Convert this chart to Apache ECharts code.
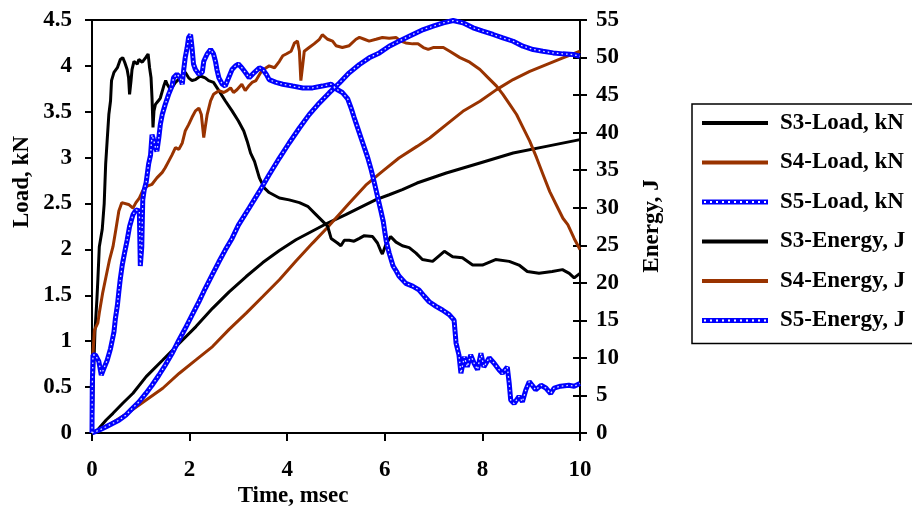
<!DOCTYPE html>
<html>
<head>
<meta charset="utf-8">
<script src="https://cdn.jsdelivr.net/npm/echarts@6/dist/echarts.min.js"></script>
<style>html,body{margin:0;padding:0;background:#fff;}#c{width:912px;height:506px;}</style>
</head>
<body>
<div id="c"></div>
<script>
// ---- data ----
const xTicks = [0, 2, 4, 6, 8, 10];
const loadTicksMax = 4.5, energyTicksMax = 55;
const seriesNames = ['S3-Load, kN','S4-Load, kN','S5-Load, kN','S3-Energy, J','S4-Energy, J','S5-Energy, J'];

const s3LoadT = [0,0.03,0.06,0.1,0.12,0.15,0.21,0.25,0.28,0.31,0.345,0.38,0.40,0.45,0.52,0.58,0.63,0.67,0.72,0.75,0.77,0.80,0.82,0.86,0.93,0.96,1.03,1.10,1.15,1.18,1.21,1.23,1.25,1.27,1.30,1.36,1.40,1.47,1.51,1.54,1.61,1.71,1.81,1.91,1.98,2.05,2.12,2.22,2.32,2.39,2.49,2.60,2.73,2.87,3.0,3.11,3.18,3.25,3.33,3.43,3.53,3.63,3.84,4.04,4.25,4.42,4.59,4.76,4.83,4.90,5.03,5.10,5.17,5.27,5.37,5.48,5.58,5.75,5.85,5.92,5.95,6.02,6.12,6.23,6.36,6.50,6.64,6.77,6.98,7.22,7.39,7.59,7.80,8.0,8.27,8.55,8.75,8.92,9.16,9.43,9.64,9.78,9.88,10];
const s3Load  = [0,0.6,1.1,1.45,1.67,2.03,2.22,2.5,2.93,3.18,3.47,3.62,3.84,3.93,3.98,4.07,4.09,4.04,3.96,3.87,3.69,3.84,3.96,4.05,4.02,4.07,4.04,4.09,4.13,3.98,3.87,3.65,3.33,3.51,3.58,3.62,3.65,3.78,3.84,3.80,3.74,3.82,3.87,3.93,3.87,3.84,3.85,3.89,3.87,3.84,3.82,3.73,3.62,3.51,3.40,3.29,3.18,3.05,2.96,2.78,2.67,2.62,2.56,2.54,2.51,2.47,2.38,2.29,2.25,2.12,2.07,2.04,2.10,2.10,2.09,2.12,2.15,2.14,2.07,1.98,1.95,2.05,2.14,2.08,2.04,2.02,1.96,1.89,1.87,1.98,1.92,1.91,1.83,1.83,1.89,1.87,1.83,1.76,1.74,1.76,1.78,1.74,1.69,1.74];

const s4LoadT = [0,0.005,0.02,0.05,0.12,0.15,0.22,0.29,0.36,0.43,0.49,0.55,0.61,0.75,0.84,0.90,0.97,1.04,1.13,1.23,1.33,1.44,1.50,1.57,1.64,1.71,1.78,1.85,1.91,1.98,2.05,2.12,2.19,2.24,2.29,2.32,2.36,2.43,2.49,2.60,2.70,2.77,2.84,2.90,2.97,3.07,3.14,3.21,3.28,3.36,3.46,3.57,3.63,3.74,3.84,3.91,3.98,4.08,4.15,4.21,4.25,4.28,4.32,4.35,4.45,4.55,4.66,4.72,4.83,4.93,5.0,5.13,5.27,5.41,5.48,5.58,5.68,5.82,5.95,6.09,6.23,6.33,6.43,6.57,6.68,6.79,6.89,6.99,7.20,7.33,7.54,7.74,7.95,8.12,8.29,8.42,8.56,8.70,8.83,8.97,9.11,9.24,9.38,9.51,9.65,9.75,9.88,10];
const s4Load  = [0,0.6,0.87,1.12,1.20,1.31,1.53,1.71,1.89,2.03,2.22,2.42,2.51,2.49,2.45,2.51,2.56,2.64,2.69,2.71,2.78,2.84,2.89,2.96,3.03,3.11,3.09,3.16,3.29,3.36,3.44,3.51,3.54,3.47,3.22,3.33,3.47,3.62,3.69,3.73,3.71,3.73,3.76,3.71,3.74,3.80,3.73,3.78,3.82,3.84,3.93,3.98,4.00,3.98,4.05,4.11,4.13,4.16,4.25,4.27,4.16,3.84,4.02,4.16,4.20,4.24,4.29,4.34,4.29,4.27,4.22,4.20,4.22,4.29,4.31,4.29,4.27,4.29,4.31,4.30,4.31,4.27,4.25,4.24,4.24,4.20,4.18,4.20,4.20,4.16,4.09,4.04,3.96,3.87,3.78,3.69,3.58,3.47,3.33,3.18,3.0,2.82,2.63,2.49,2.34,2.27,2.12,2.0];

const s5LoadT = [0,0.005,0.02,0.07,0.14,0.19,0.24,0.31,0.38,0.45,0.48,0.52,0.55,0.58,0.62,0.67,0.72,0.77,0.84,0.90,0.97,0.99,1.02,1.04,1.07,1.11,1.16,1.20,1.23,1.27,1.30,1.33,1.37,1.40,1.44,1.50,1.57,1.64,1.67,1.74,1.81,1.85,1.88,1.91,1.95,1.98,2.02,2.05,2.08,2.12,2.19,2.26,2.29,2.36,2.43,2.46,2.49,2.53,2.56,2.60,2.67,2.73,2.80,2.87,2.94,3.00,3.07,3.14,3.22,3.33,3.43,3.50,3.57,3.63,3.77,3.91,4.11,4.32,4.52,4.72,4.90,5.03,5.13,5.24,5.31,5.37,5.44,5.51,5.58,5.65,5.72,5.78,5.85,5.92,5.97,6.0,6.03,6.09,6.17,6.24,6.29,6.43,6.57,6.70,6.81,6.91,7.05,7.18,7.32,7.42,7.46,7.52,7.56,7.63,7.69,7.76,7.83,7.90,7.97,8.03,8.14,8.24,8.34,8.41,8.51,8.55,8.58,8.65,8.75,8.82,8.89,8.96,9.02,9.09,9.20,9.30,9.40,9.47,9.60,9.77,9.88,10];
const s5Load  = [0,0.48,0.85,0.85,0.78,0.63,0.70,0.79,0.92,1.10,1.25,1.39,1.54,1.68,1.83,1.97,2.10,2.25,2.38,2.43,2.42,1.82,2.03,2.54,2.65,2.73,2.93,3.03,3.25,3.18,3.11,3.07,3.22,3.36,3.47,3.58,3.69,3.78,3.87,3.91,3.87,3.80,3.96,4.09,4.20,4.31,4.34,4.20,4.02,3.96,3.91,3.93,4.05,4.13,4.18,4.20,4.13,4.05,3.96,3.87,3.80,3.78,3.87,3.96,4.00,4.02,3.98,3.93,3.87,3.93,3.98,3.96,3.91,3.85,3.82,3.80,3.78,3.76,3.76,3.78,3.80,3.74,3.71,3.64,3.54,3.44,3.33,3.22,3.11,3.0,2.87,2.74,2.58,2.42,2.30,2.19,2.09,1.96,1.82,1.76,1.71,1.63,1.60,1.56,1.49,1.43,1.38,1.34,1.29,1.23,0.98,0.85,0.65,0.83,0.72,0.85,0.76,0.69,0.87,0.72,0.82,0.76,0.69,0.65,0.72,0.54,0.36,0.32,0.40,0.34,0.47,0.56,0.52,0.47,0.52,0.49,0.43,0.49,0.51,0.52,0.51,0.54];

const s3EnergyT = [0,0.1,0.29,0.43,0.63,0.84,1.11,1.45,1.79,2.13,2.47,2.81,3.16,3.50,3.84,4.18,4.52,4.83,5.20,5.54,5.82,6.09,6.36,6.66,7.26,7.95,8.63,9.31,10];
const s3Energy  = [0,0.3,1.73,2.62,3.96,5.29,7.51,9.73,11.96,14.17,16.6,18.8,20.84,22.7,24.3,25.73,26.9,27.96,29.07,30.17,31.07,31.73,32.4,33.29,34.62,35.96,37.29,38.17,39.07];

const s4EnergyT = [0,0.4,0.77,1.11,1.45,1.79,2.13,2.47,2.81,3.16,3.50,3.84,4.18,4.52,4.83,5.27,5.61,5.95,6.29,6.66,6.92,7.26,7.60,7.95,8.29,8.63,8.97,9.31,9.65,10];
const s4Energy  = [0,1.3,2.84,4.4,5.96,7.96,9.73,11.51,13.8,15.96,18.17,20.4,22.9,25.29,27.4,30.6,33.0,34.84,36.62,38.17,39.29,41.07,42.84,44.17,45.73,47.07,48.17,49.07,49.96,50.84];

const s5EnergyT = [0,0.14,0.28,0.41,0.55,0.69,0.82,0.96,1.10,1.23,1.37,1.50,1.64,1.78,1.91,2.05,2.19,2.32,2.46,2.60,2.73,2.87,3.0,3.22,3.43,3.63,3.84,4.04,4.25,4.45,4.66,4.86,5.07,5.27,5.48,5.68,5.89,6.09,6.29,6.50,6.79,6.99,7.20,7.40,7.60,7.81,8.01,8.22,8.42,8.63,8.83,9.04,9.24,9.45,9.65,9.86,10];
const s5Energy  = [0,0.36,0.8,1.24,1.69,2.36,3.24,4.13,5.24,6.36,7.69,9.02,10.58,12.36,13.91,15.69,17.47,19.24,21.02,22.8,24.36,25.91,27.69,29.96,32.17,34.4,36.62,38.62,40.62,42.4,43.96,45.29,46.62,47.96,49.07,49.96,50.62,51.51,52.17,52.84,53.73,54.17,54.62,54.93,54.62,53.96,53.51,53.07,52.62,52.17,51.51,51.07,50.84,50.62,50.49,50.4,50.17];

// ---- build ----
const zip = (t, v) => t.map((x, i) => [x, v[i]]);
const FONT = "'Liberation Serif','Times New Roman',serif";
const BLACK = '#000000', BROWN = '#993300', BLUE = '#0000ff';

function chainPath() {
  let p = '';
  for (let i = 0; i < 11; i++) {
    const x = i * 6;
    p += `M${x} 0h6v5h-6Z M${x + 2} 1.5v2h2v-2Z `;
  }
  return 'path://' + p;
}
const solidIcon = 'path://M0 0h66v4h-66Z';

const chart = echarts.init(document.getElementById('c'), null, {renderer: 'canvas'});

function lineSeries(name, data, yIdx, color, width, z) {
  return {name, type: 'line', data, yAxisIndex: yIdx, symbol: 'none', showSymbol: false,
    lineStyle: {color, width}, itemStyle: {color}, z, silent: true, animation: false};
}
function dotOverlay(data, yIdx, z) {
  return {type: 'line', data, yAxisIndex: yIdx, symbol: 'none', showSymbol: false,
    lineStyle: {color: '#dfe3ff', width: 1.3, type: [1.6, 3]}, z, silent: true, animation: false};
}

const axisLabelStyle = {color: '#000', fontFamily: FONT, fontWeight: 'bold', fontSize: 23};

chart.setOption({
  animation: false,
  backgroundColor: '#fff',
  grid: {left: 92, right: 332, top: 20, bottom: 73, show: true, borderColor: '#000', borderWidth: 2, backgroundColor: 'transparent'},
  xAxis: {
    type: 'value', min: xTicks[0], max: xTicks[xTicks.length - 1], interval: xTicks[1] - xTicks[0],
    axisLine: {show: true, lineStyle: {color: '#000', width: 2}},
    axisTick: {show: true, inside: false, length: 8, lineStyle: {color: '#000', width: 2}},
    axisLabel: Object.assign({margin: 26}, axisLabelStyle),
    splitLine: {show: false}
  },
  yAxis: [
    {type: 'value', position: 'left', min: 0, max: loadTicksMax, interval: 0.5,
      axisLine: {show: true, lineStyle: {color: '#000', width: 2}},
      axisTick: {show: true, inside: false, length: 7, lineStyle: {color: '#000', width: 2}},
      axisLabel: Object.assign({margin: 20}, axisLabelStyle),
      splitLine: {show: false}},
    {type: 'value', position: 'right', min: 0, max: energyTicksMax, interval: 5,
      axisLine: {show: true, lineStyle: {color: '#000', width: 2}},
      axisTick: {show: true, inside: false, length: 7, lineStyle: {color: '#000', width: 2}},
      axisLabel: Object.assign({margin: 16}, axisLabelStyle),
      splitLine: {show: false}},
    {type: 'value', position: 'right', min: 0, max: energyTicksMax, interval: 5,
      axisLine: {show: false},
      axisTick: {show: true, inside: true, length: 7, lineStyle: {color: '#000', width: 2}},
      axisLabel: {show: false},
      splitLine: {show: false}}
  ],
  legend: {
    orient: 'vertical', left: 692, top: 104,
    padding: [6, 20, 10, 10],
    itemWidth: 66, itemHeight: 8, itemGap: 13.5,
    borderColor: '#000', borderWidth: 1.5, backgroundColor: '#fff',
    selectedMode: false,
    textStyle: {color: '#000', fontFamily: FONT, fontWeight: 'bold', fontSize: 23, lineHeight: 26, padding: [0, 0, 0, 7]},
    data: [
      {name: seriesNames[0], icon: solidIcon, itemStyle: {color: BLACK}},
      {name: seriesNames[1], icon: solidIcon, itemStyle: {color: BROWN}},
      {name: seriesNames[2], icon: chainPath(), itemStyle: {color: BLUE}},
      {name: seriesNames[3], icon: solidIcon, itemStyle: {color: BLACK}},
      {name: seriesNames[4], icon: solidIcon, itemStyle: {color: BROWN}},
      {name: seriesNames[5], icon: chainPath(), itemStyle: {color: BLUE}}
    ]
  },
  graphic: [
    {type: 'text', x: 22, y: 182, rotation: Math.PI / 2,
      style: {text: 'Load, kN', fill: '#000', font: `bold 23px ${FONT}`, align: 'center', verticalAlign: 'middle'}},
    {type: 'text', x: 652, y: 226, rotation: Math.PI / 2,
      style: {text: 'Energy, J', fill: '#000', font: `bold 23px ${FONT}`, align: 'center', verticalAlign: 'middle'}},
    {type: 'text', x: 293, y: 496,
      style: {text: 'Time, msec', fill: '#000', font: `bold 23px ${FONT}`, align: 'center', verticalAlign: 'middle'}}
  ],
  series: [
    lineSeries(seriesNames[3], zip(s3EnergyT, s3Energy), 1, BLACK, 3, 2),
    lineSeries(seriesNames[4], zip(s4EnergyT, s4Energy), 1, BROWN, 3, 2),
    lineSeries(seriesNames[0], zip(s3LoadT, s3Load), 0, BLACK, 3, 3),
    lineSeries(seriesNames[1], zip(s4LoadT, s4Load), 0, BROWN, 3, 3),
    lineSeries(seriesNames[5], zip(s5EnergyT, s5Energy), 1, BLUE, 5, 4),
    dotOverlay(zip(s5EnergyT, s5Energy), 1, 5),
    lineSeries(seriesNames[2], zip(s5LoadT, s5Load), 0, BLUE, 5, 4),
    dotOverlay(zip(s5LoadT, s5Load), 0, 5)
  ]
});
</script>
</body>
</html>
